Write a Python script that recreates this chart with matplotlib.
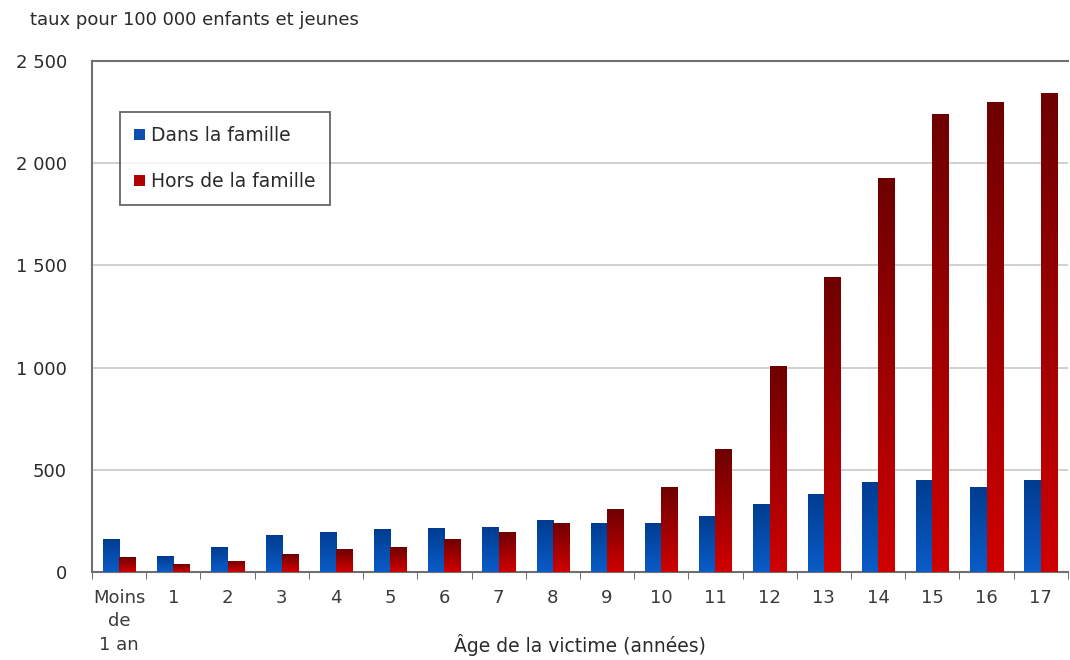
import numpy as np
import matplotlib
matplotlib.use("Agg")
import matplotlib.pyplot as plt
from matplotlib.colors import LinearSegmentedColormap

# data
ages = ["Moins\nde\n1 an", "1", "2", "3", "4", "5", "6", "7", "8", "9",
        "10", "11", "12", "13", "14", "15", "16", "17"]
dans_famille = [161, 76, 122, 181, 196, 210, 215, 220, 254, 240,
                240, 274, 333, 382, 441, 451, 417, 451]
hors_famille = [73, 39, 54, 88, 112, 122, 161, 196, 240, 308,
                416, 601, 1010, 1441, 1926, 2240, 2299, 2343]
yticks = [0, 500, 1000, 1500, 2000, 2500]
ytick_labels = ["0", "500", "1 000", "1 500", "2 000", "2 500"]

plt.rcParams['font.family'] = ['DejaVu Sans']
txt = "#2a2a2a"

fig = plt.figure(figsize=(10.7, 6.6), dpi=100)
ax = fig.add_axes([0.086, 0.1333, 0.912, 0.7743])

x = np.arange(len(ages))
w = 0.30
b1 = ax.bar(x - w/2, dans_famille, w, color="#0b4fb0", zorder=3,
            label="Dans la famille")
b2 = ax.bar(x + w/2, hors_famille, w, color="#b00000", zorder=3,
            label="Hors de la famille")

# vertical gradient fill, clipped to each bar
blue_cm = LinearSegmentedColormap.from_list("b", ["#003c90", "#0a5cc8"])
red_cm = LinearSegmentedColormap.from_list("r", ["#6e0000", "#d00000"])
grad = np.linspace(0, 1, 256).reshape(-1, 1)
for bars, cm in ((b1, blue_cm), (b2, red_cm)):
    for p in bars:
        x0, y0 = p.get_x(), p.get_y()
        im = ax.imshow(grad, cmap=cm, aspect="auto", zorder=4,
                       extent=[x0, x0 + p.get_width(), y0, y0 + p.get_height()],
                       origin="upper")
        im.set_clip_path(p)

ax.set_xlim(-0.47, 17.3)
ax.set_ylim(0, 2500)
ax.set_yticks(yticks)
ax.set_yticklabels(ytick_labels, fontsize=13, color=txt)
ax.yaxis.grid(True, color="#c8c8c8", linewidth=1.2, zorder=0)
ax.tick_params(axis="y", length=0, pad=18)

ax.set_xticks(x)
ax.set_xticklabels(ages, fontsize=13, linespacing=1.4, color="#3a3a3a")
ax.tick_params(axis="x", which="major", length=0, pad=12)
ax.set_xticks(np.arange(len(ages) + 1) - 0.5, minor=True)
ax.tick_params(axis="x", which="minor", length=5, direction="out", color="#555555")

for s in ("left", "top", "bottom"):
    ax.spines[s].set_color("#707070")
    ax.spines[s].set_linewidth(1.5)
ax.spines["right"].set_visible(False)

ax.set_xlabel("Âge de la victime (années)", fontsize=13.5, color=txt, labelpad=-14)
fig.text(0.028, 0.984, "taux pour 100 000 enfants et jeunes", fontsize=13,
         va="top", ha="left", color=txt)

leg = ax.legend(loc="upper left", bbox_to_anchor=(0.029, 0.900), borderaxespad=0,
                fontsize=13.5, frameon=True, fancybox=False,
                handlelength=0.55, handleheight=0.55, handletextpad=0.35,
                labelspacing=1.45, borderpad=0.75)
leg.get_frame().set_edgecolor("#404040")
leg.get_frame().set_linewidth(1.3)
for t in leg.get_texts():
    t.set_color(txt)

fig.savefig("out.png", dpi=100)
